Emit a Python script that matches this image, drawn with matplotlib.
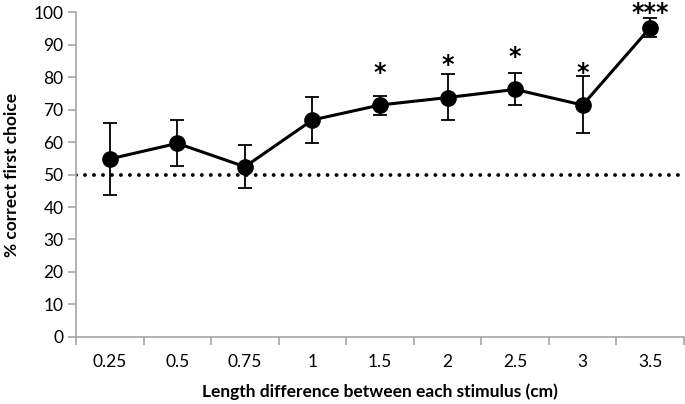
import numpy as np
import matplotlib.pyplot as plt

# datos
categorias = ['0.25', '0.5', '0.75', '1', '1.5', '2', '2.5', '3', '3.5']
porcentaje = [54.8, 59.6, 52.4, 66.8, 71.4, 73.7, 76.2, 71.4, 95.2]
err_sup = [66.0, 66.8, 59.2, 74.0, 74.3, 81.0, 81.2, 80.2, 98.3]
err_inf = [43.6, 52.6, 45.7, 59.6, 68.4, 66.9, 71.3, 62.8, 92.2]
asteriscos = ['', '', '', '', '*', '*', '*', '*', '***']
altura_ast = [0, 0, 0, 0, 85.0, 87.5, 90.0, 85.0, 103.5]
azar = 50

plt.rcParams['font.family'] = ['Lato', 'DejaVu Sans']
gris = '#a6a6a6'

fig = plt.figure(figsize=(6.85, 4.04), dpi=100)
ax = fig.add_axes([0.111, 0.166, 0.8875, 0.804])

x = np.arange(len(categorias))
y = np.array(porcentaje)
yerr = [y - np.array(err_inf), np.array(err_sup) - y]

ax.axhline(azar, color='black', lw=2.8, linestyle=(0, (0.01, 2.3)),
           dash_capstyle='round', zorder=1)
ax.errorbar(x, y, yerr=yerr, fmt='none', ecolor='black', elinewidth=1.3,
            capsize=5, capthick=1.3, zorder=2)
ax.plot(x, y, color='black', lw=2.2, marker='o', markersize=11, zorder=3)

for i, txt in enumerate(asteriscos):
    if txt:
        ax.text(x[i], altura_ast[i], txt, ha='center', va='top',
                fontsize=17, fontweight='bold', family='DejaVu Sans',
                clip_on=False)

ax.set_xlim(-0.5, len(categorias) - 0.5)
ax.set_ylim(0, 100)
ax.set_yticks(range(0, 101, 10))
ax.set_xticks(np.arange(len(categorias) + 1) - 0.5)
ax.set_xticklabels([])
ax.set_xticks(x, minor=True)
ax.set_xticklabels(categorias, minor=True)
ax.tick_params(axis='x', which='minor', length=0, pad=12, labelsize=12.5)
ax.tick_params(axis='x', which='major', length=6, color=gris, width=1.2)
ax.tick_params(axis='y', length=6, color=gris, width=1.2, labelsize=12.5, pad=3)

for s in ['top', 'right']:
    ax.spines[s].set_visible(False)
for s in ['left', 'bottom']:
    ax.spines[s].set_color(gris)
    ax.spines[s].set_linewidth(1.2)

ax.set_xlabel('Length difference between each stimulus (cm)', fontsize=12.5,
              fontweight='bold', labelpad=10)
ax.set_ylabel('% correct first choice', fontsize=12.5, fontweight='bold',
              labelpad=10)

plt.savefig('out.png', dpi=100)
